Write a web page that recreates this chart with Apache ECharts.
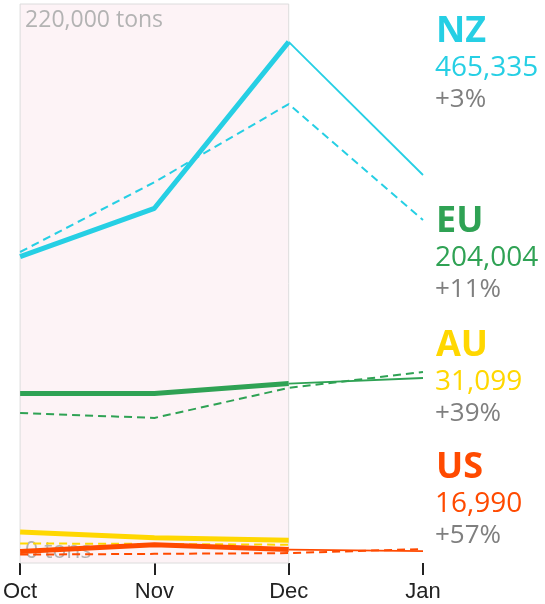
<!DOCTYPE html>
<html>
<head>
<meta charset="utf-8">
<script src="https://cdn.jsdelivr.net/npm/echarts@6/dist/echarts.min.js"></script>
<style>
  html, body { margin: 0; padding: 0; background: #fff; }
  #main { width: 545px; height: 604px; }
</style>
</head>
<body>
<div id="main"></div>
<script>
// months on the x axis
var months = ["Oct", "Nov", "Dec", "Jan"];
var yMin = 0;
var yMax = 220000;

// countries, in drawing order
var countries = ["NZ", "EU", "AU", "US"];
var colors = ["#26cfe4", "#2fa254", "#ffd700", "#ff4a00"];

// this season, Oct-Dec (thick line), tons
var thisSeason = [
  [120600, 139600, 205100],
  [66700, 66700, 70600],
  [12200, 9900, 9000],
  [4500, 7200, 5300]
];
// this season, Jan (thin line from Dec), null = none
var thisJan = [152700, 72800, null, 4700];
// last season, Oct-Jan (dashed line)
var lastSeason = [
  [122400, 149900, 180600, 135000],
  [59000, 57100, 68900, 75200],
  [7700, 7500, 7200, null],
  [3300, 3600, 3900, 5500]
];
// totals and change shown at right
var totals = ["465,335", "204,004", "31,099", "16,990"];
var changes = ["+3%", "+11%", "+39%", "+57%"];
var labelTops = [29, 219, 343, 465];

var chart = echarts.init(document.getElementById("main"));

var series = [];
// shaded Oct-Dec box
series.push({
  type: "line",
  data: [],
  z: 1,
  silent: true,
  markArea: {
    silent: true,
    itemStyle: { color: "#fdf3f6", borderColor: "#dcdcdc", borderWidth: 1 },
    data: [[{ xAxis: "Oct", yAxis: yMax }, { xAxis: "Dec", yAxis: yMin }]]
  }
});

countries.forEach(function (c, i) {
  series.push({
    name: c + " last",
    type: "line",
    z: 3,
    data: lastSeason[i],
    symbol: "none",
    silent: true,
    lineStyle: { color: colors[i], width: 2, type: [8, 5] }
  });
  series.push({
    name: c + " Jan",
    type: "line",
    z: 3,
    data: thisJan[i] == null ? [] : [null, null, thisSeason[i][2], thisJan[i]],
    symbol: "none",
    silent: true,
    lineStyle: { color: colors[i], width: 1.8 }
  });
  series.push({
    name: c,
    type: "line",
    z: 4,
    data: thisSeason[i],
    symbol: "none",
    silent: true,
    lineStyle: { color: colors[i], width: 5 }
  });
});

chart.setOption({
  animation: false,
  grid: { left: 20, right: 122, top: 4, bottom: 41 },
  xAxis: {
    type: "category",
    data: months,
    boundaryGap: false,
    axisLine: { show: false },
    axisTick: { show: true, alignWithLabel: true, length: 12, lineStyle: { color: "#222", width: 2 } },
    axisLabel: { color: "#222", fontSize: 22, fontFamily: "Liberation Sans", margin: 18 }
  },
  yAxis: {
    type: "value",
    min: yMin,
    max: yMax,
    interval: yMax,
    axisLine: { show: false },
    axisTick: { show: false },
    axisLabel: { show: false },
    splitLine: { show: false }
  },
  series: series
});

// y labels placed from the axis scale
var pTop = chart.convertToPixel({ gridIndex: 0 }, [0, yMax]);
var pBot = chart.convertToPixel({ gridIndex: 0 }, [0, yMin]);
var graphics = [
  {
    type: "text", left: pTop[0] + 5, top: pTop[1] + 5, z: 2, silent: true,
    style: { text: yMax.toLocaleString("en-US") + " tons", fill: "#b3b3b3", font: "23px 'Open Sans'" }
  },
  {
    type: "text", left: pBot[0] + 5, top: pBot[1] - 23, z: 2, silent: true,
    style: { text: yMin + " tons", fill: "#b3b3b3", font: "23px 'Open Sans'" }
  }
];
countries.forEach(function (c, i) {
  var t = labelTops[i];
  graphics.push({
    type: "text", left: 436, top: t - 15, silent: true,
    style: { text: c, fill: colors[i], font: "bold 36px 'Open Sans'" }
  });
  graphics.push({
    type: "text", left: 435, top: t + 25, silent: true,
    style: { text: totals[i], fill: colors[i], font: "28px 'Open Sans'" }
  });
  graphics.push({
    type: "text", left: 435, top: t + 58, silent: true,
    style: { text: changes[i], fill: "#7f7f7f", font: "26px 'Open Sans'" }
  });
});
chart.setOption({ graphic: graphics });
</script>
</body>
</html>
